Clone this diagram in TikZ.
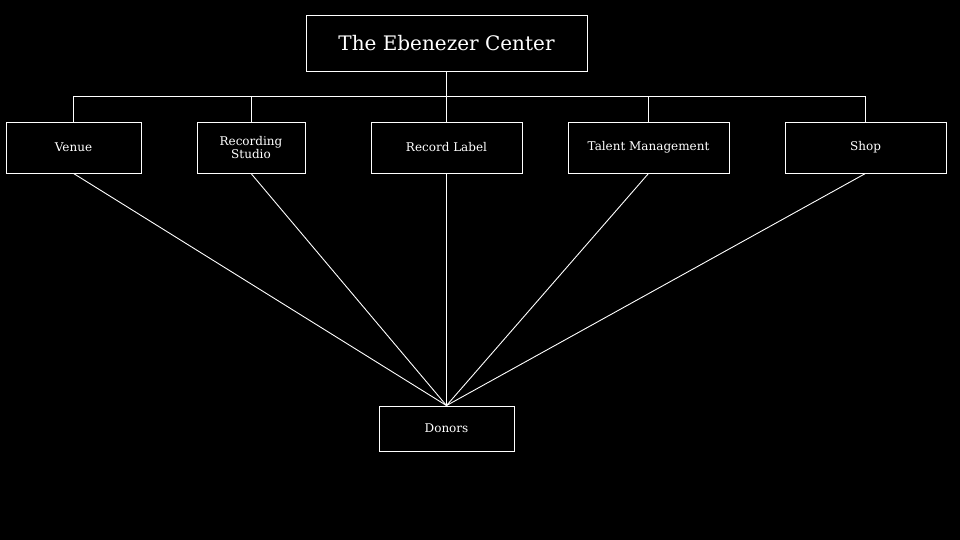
\documentclass[tikz,border=0pt]{standalone}
\usepackage{fontspec}
\setmainfont{DejaVu Serif}
\usetikzlibrary{positioning}
\tikzset{
  unit/.style={draw=white, line width=0.9pt, text=white, align=center, inner sep=0pt, font=\fontsize{12}{13}\selectfont},
  link/.style={draw=white, line width=0.9pt}
}
\begin{document}
\begin{tikzpicture}[x=1pt,y=-1pt]
		\fill[black] (0,0) rectangle (960,540);
		\useasboundingbox (0,0) rectangle (960,540);
		\node[unit, minimum width=281pt, minimum height=56pt, font=\fontsize{20}{22}\selectfont] (center) at (446.5,43) {The Ebenezer Center};
		\node[unit, minimum width=135pt, minimum height=51pt] (venue) at (73.5,147.5) {Venue};
		\node[unit, minimum width=108pt, minimum height=51pt] (studio) at (251,147.5) {Recording\\Studio};
		\node[unit, minimum width=151pt, minimum height=51pt] (label) at (446.5,147.5) {Record Label};
		\node[unit, minimum width=161pt, minimum height=51pt] (talent) at (648.5,147.5) {Talent Management};
		\node[unit, minimum width=161pt, minimum height=51pt] (shop) at (865.5,147.5) {Shop};
		\node[unit, minimum width=135pt, minimum height=45pt] (donors) at (446.5,428.5) {Donors};
		
		\coordinate (bus) at (446.5,96);
		\draw[link] (center.south) -- (bus);
		\foreach \u in {venue, studio, label, talent, shop}
		{
			\draw[link] (\u.north) -- (\u.north |- bus);
			\draw[link] (\u.south) -- (donors.north);
		}
		\draw[link] (venue.north |- bus) -- (shop.north |- bus);
	\end{tikzpicture}
\end{document}
